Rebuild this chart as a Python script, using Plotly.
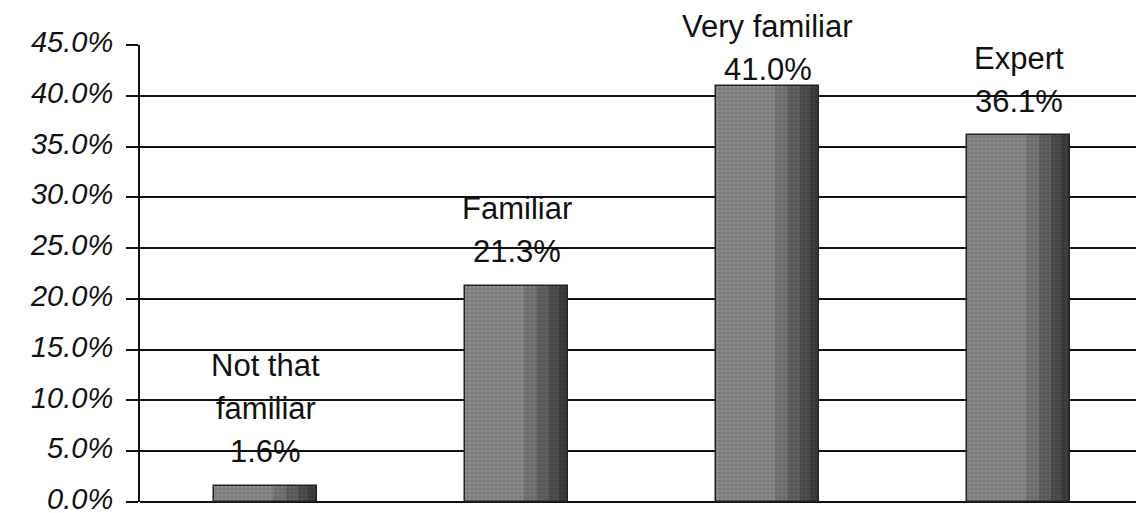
import plotly.graph_objects as go

# ---- data ----
categories = ["Not that familiar", "Familiar", "Very familiar", "Expert"]
label_lines = [["Not that", "familiar"], ["Familiar"], ["Very familiar"], ["Expert"]]
values = [1.6, 21.3, 41.0, 36.1]
y_ticks = [0, 5, 10, 15, 20, 25, 30, 35, 40, 45]
y_tick_labels = [f"{v:.1f}%" for v in y_ticks]

# ---- layout geometry (page body adds an 8px offset) ----
PAGE_OFF = 8
W, H = 1144 - PAGE_OFF, 513
M_L, M_R, M_T, M_B = 140 - PAGE_OFF, 0, 45 - PAGE_OFF, 11 + PAGE_OFF
Y_MAX = 45
plot_h = H - M_T - M_B

BAR_W = 0.41
FONT = "Liberation Sans, Arial, sans-serif"
fig = go.Figure()

# main bar body (speckled gray), then progressively darker right-side shading
bands = [
    # (offset, width, bg, fg)
    (-BAR_W / 2, BAR_W, "#7c7c7c", "#a4a4a4"),
    (0.03, 0.175, "#6a6a6a", "#8a8a8a"),
    (0.08, 0.125, "#585858", "#747474"),
    (0.13, 0.075, "#464646", "#5e5e5e"),
    (0.17, 0.035, "#383838", "#4c4c4c"),
]
for off, wd, bg, fg in bands:
    fig.add_trace(go.Bar(
        x=categories, y=values, width=wd, offset=off,
        marker=dict(color=bg, line=dict(width=0),
                    pattern=dict(shape=".", bgcolor=bg, fgcolor=fg,
                                 size=4, solidity=0.3)),
        hoverinfo="skip", showlegend=False,
    ))
# outline
fig.add_trace(go.Bar(
    x=categories, y=values, width=BAR_W, offset=-BAR_W / 2,
    marker=dict(color="rgba(0,0,0,0)", line=dict(color="#222222", width=1.5)),
    hoverinfo="skip", showlegend=False,
))

# ---- labels above bars ----
LINE_GAP = 43
BASE_LIFT = 34
TOP_LIMIT = 27 - PAGE_OFF
annotations = []
for cat, lines, v in zip(categories, label_lines, values):
    all_lines = lines + [f"{v:.1f}%"]
    n = len(all_lines)
    bar_top_px = M_T + (Y_MAX - v) / Y_MAX * plot_h
    lift = min(BASE_LIFT, bar_top_px - TOP_LIMIT - LINE_GAP * (n - 1))
    for k, txt in enumerate(reversed(all_lines)):
        annotations.append(dict(
            x=cat, y=v, xref="x", yref="y", text=txt, showarrow=False,
            yanchor="middle", yshift=lift + LINE_GAP * k,
            font=dict(family=FONT, size=31, color="#111111"),
        ))

fig.update_layout(
    width=W, height=H,
    margin=dict(l=M_L, r=M_R, t=M_T, b=M_B, autoexpand=False),
    paper_bgcolor="white", plot_bgcolor="white",
    barmode="overlay", bargap=0,
    annotations=annotations,
    xaxis=dict(showticklabels=False, showgrid=False, zeroline=False,
               showline=False, ticks="", range=[-0.5, 3.5]),
    yaxis=dict(range=[0, Y_MAX], tickvals=y_ticks, ticktext=y_tick_labels,
               automargin=False,
               showgrid=True, gridcolor="#111111", gridwidth=2,
               zeroline=True, zerolinecolor="#111111", zerolinewidth=2,
               showline=True, linecolor="#111111", linewidth=2,
               ticks="outside", ticklen=12, tickwidth=2, tickcolor="#111111",
               ticklabelstandoff=7, ticklabelshift=-3,
               tickfont=dict(family=FONT, size=29, color="#111111", style="italic")),
)

fig.write_html("out.html")
